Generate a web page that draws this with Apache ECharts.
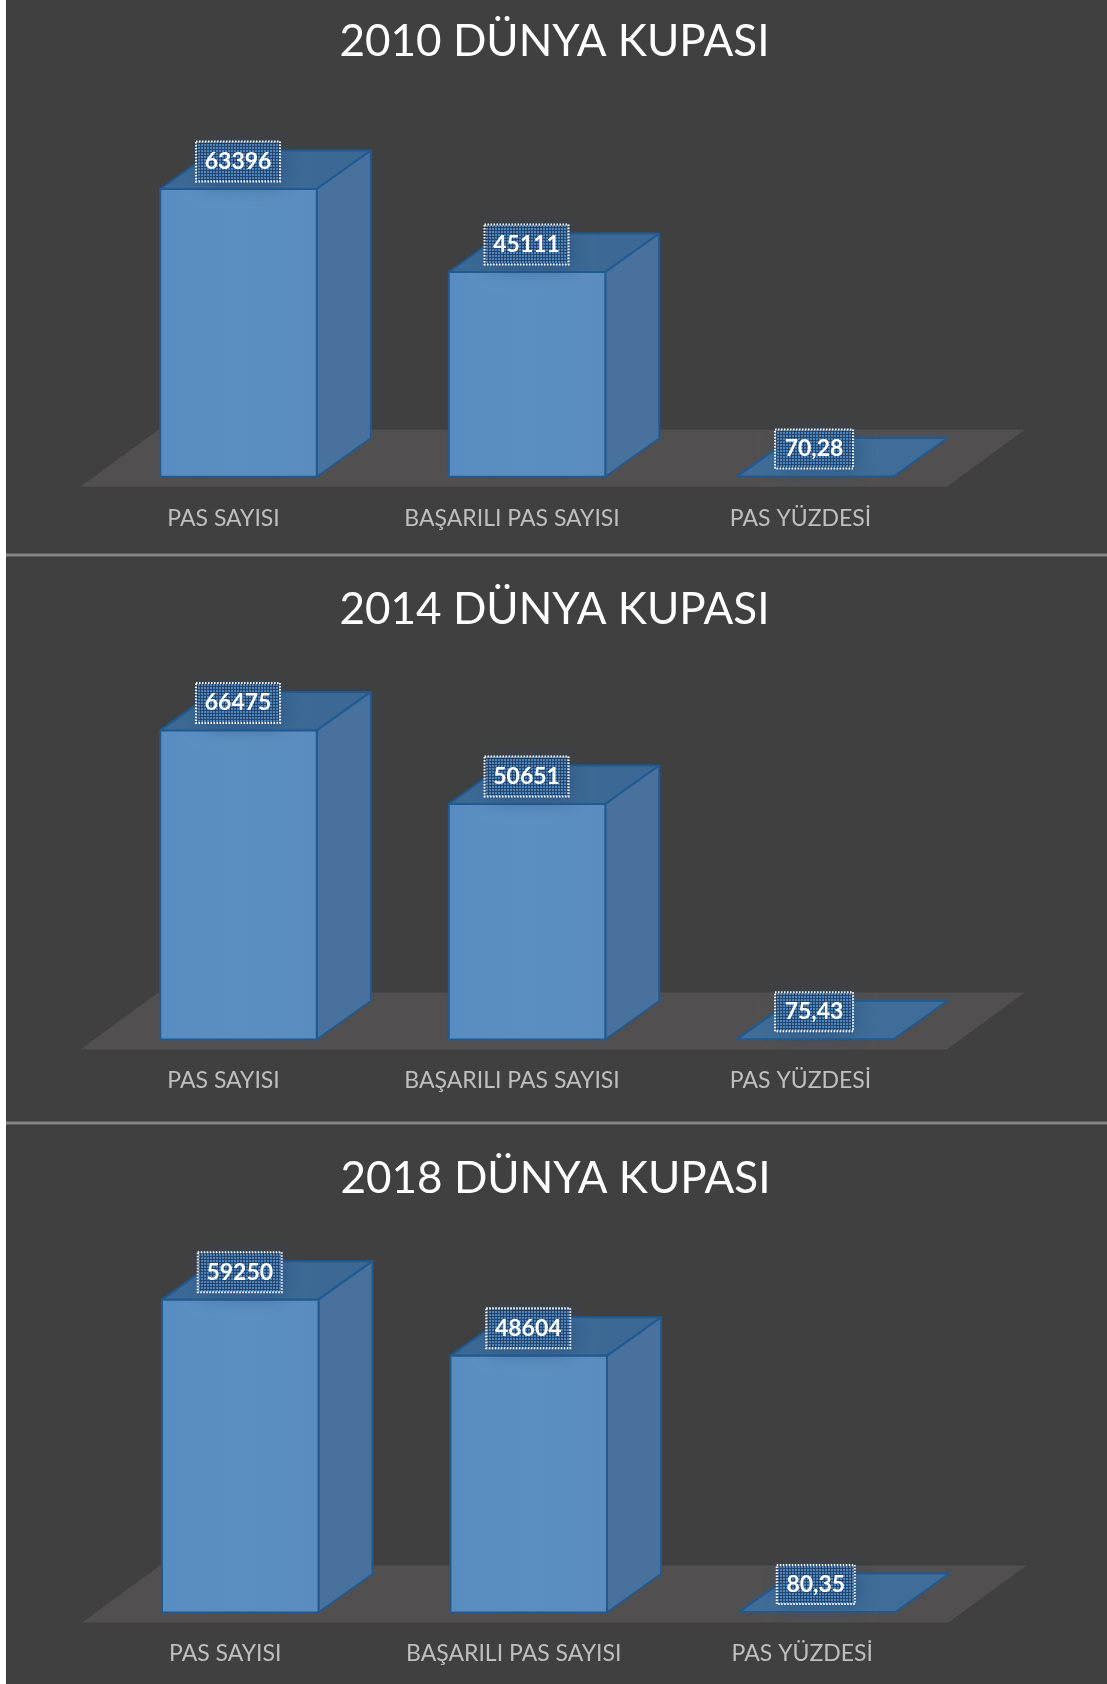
<!DOCTYPE html>
<html><head><meta charset="utf-8">
<script src="https://cdn.jsdelivr.net/npm/echarts@6/dist/echarts.min.js"></script>
<style>html,body{margin:0;padding:0;background:#fff}
#c{position:absolute;left:0;top:0;width:1107px;height:1684px;background:linear-gradient(90deg,#fff 6px,#404040 6px)}</style>
</head><body><div id="c"></div>
<script>
const categories = ['PAS SAYISI', 'BAŞARILI PAS SAYISI', 'PAS YÜZDESİ'];
const titles = ['2010 DÜNYA KUPASI', '2014 DÜNYA KUPASI', '2018 DÜNYA KUPASI'];
const values2010 = [63396, 45111, 70.28];
const values2014 = [66475, 50651, 75.43];
const values2018 = [59250, 48604, 80.35];
const series = [values2010, values2014, values2018];

const panels = [
  {titleTop: 15, left: 94.3, base: 476.7, height: 363},
  {titleTop: 583, left: 94.3, base: 1039.5, height: 372},
  {titleTop: 1152, left: 96, base: 1612.5, height: 422.4}
];
const AXIS_MAX = 80000, BAR_W = 156.5, DX = 54, DY = 38.5;
const FONT = 'Lato, "Open Sans", sans-serif';

const pc = document.createElement('canvas'); pc.width = pc.height = 3;
const g = pc.getContext('2d');
g.clearRect(0,0,3,3);
g.fillStyle = 'rgba(80,140,200,0.9)'; g.fillRect(0,0,2,2);
g.fillStyle = 'rgba(30,50,80,0.4)'; g.fillRect(2,0,1,3); g.fillRect(0,2,3,1);

function renderBar(params, api) {
  const i = api.value(0), v = api.value(1);
  const top = api.coord([i, v]), bot = api.coord([i, 0]);
  const cx = top[0], L = cx - BAR_W / 2, R = cx + BAR_W / 2, T = top[1], B = bot[1];
  const edge = {stroke: '#215a90', lineWidth: 2, lineJoin: 'round'};
  const kids = [];
  const lw = v > 1000 ? 84 : 78, lh = v > 1000 ? 40 : 39;
  const ly = T - 27.5, lcx = v > 1000 ? cx - 0.5 : cx - 1.5;
  kids.push({type: 'polygon', shape: {points: [[L,T],[R,T],[R+DX,T-DY],[L+DX,T-DY]]},
    style: Object.assign({fill: v > 1000 ? '#3c6895' : '#3f6c98'}, edge)});
  if (v > 1000) {
    kids.push({type: 'polygon', shape: {points: [[R,T],[R+DX,T-DY],[R+DX,B-DY],[R,B]]},
      style: Object.assign({fill: '#49719d'}, edge)});
    kids.push({type: 'rect', shape: {x: L, y: T, width: BAR_W, height: B - T},
      style: Object.assign({fill: new echarts.graphic.LinearGradient(0,0,1,0,[
        {offset: 0, color: '#598dc2'},{offset: .5, color: '#5b8fc1'},{offset: 1, color: '#5a8cbf'}])}, edge)});
  }
  // soft glow beneath the label
  kids.push({type: 'rect', shape: {x: lcx - lw/2 + 3, y: ly - lh/2 + 3, width: lw - 4, height: lh - 4},
    style: {fill: 'rgba(45,85,130,0.9)', shadowBlur: 20, shadowColor: 'rgba(35,75,120,0.75)', shadowOffsetX: 3, shadowOffsetY: 3}});
  kids.push({type: 'rect', shape: {x: lcx - lw/2, y: ly - lh/2, width: lw, height: lh},
    style: {fill: {image: pc, repeat: 'repeat'}, stroke: '#fff', lineWidth: 2, lineDash: [1.5, 1.5]}});
  kids.push({type: 'text', style: {
    x: lcx, y: ly, text: String(v > 1000 ? v : v.toFixed(2).replace('.', ',')),
    fill: '#fff', font: 'bold 23px ' + FONT, textAlign: 'center', textVerticalAlign: 'middle'}});
  return {type: 'group', children: kids};
}

function renderFloor(params, api) {
  const cs = params.coordSys;
  const B = cs.y + cs.height + 10, T = B - 57, L = cs.x - 14, R = cs.x + cs.width - 13;
  return {type: 'polygon', silent: true, shape: {points: [[L,B],[R,B],[R+78,T],[L+78,T]]},
    style: {fill: '#514f4f'}};
}

const option = {
  animation: false,
  backgroundColor: 'transparent',
  title: panels.map((p, k) => ({
    text: titles[k], left: 549.5 + (k === 2 ? 1 : 0), top: p.titleTop, textAlign: 'center',
    textStyle: {color: '#fff', fontFamily: FONT, fontWeight: 'normal', fontSize: 44}
  })),
  grid: panels.map(p => ({left: p.left, width: 865.5, top: p.base - p.height, height: p.height})),
  xAxis: panels.map((p, k) => ({
    type: 'category', gridIndex: k, data: categories,
    axisLine: {show: false}, axisTick: {show: false},
    axisLabel: {interval: 0, margin: 30, color: '#bfbfbf', fontFamily: FONT, fontSize: 23, padding: [0, 30, 0, 0]}
  })),
  yAxis: panels.map((p, k) => ({
    type: 'value', gridIndex: k, min: 0, max: AXIS_MAX, interval: 20000, show: false, splitLine: {show: false}
  })),
  graphic: [555, 1123].map(y => ({
    type: 'rect', shape: {x: 6, y: y - 1.5, width: 1101, height: 3}, style: {fill: '#858585'}, silent: true
  })),
  series: panels.flatMap((p, k) => [
    {type: 'custom', xAxisIndex: k, yAxisIndex: k, z: 1, silent: true, clip: false,
      renderItem: renderFloor, data: [[0, 0]]},
    {type: 'custom', xAxisIndex: k, yAxisIndex: k, z: 2, silent: true, clip: false,
      renderItem: renderBar, encode: {x: 0, y: 1},
      data: series[k].map((v, i) => [i, v])}
  ])
};
echarts.init(document.getElementById('c')).setOption(option);
</script></body></html>
